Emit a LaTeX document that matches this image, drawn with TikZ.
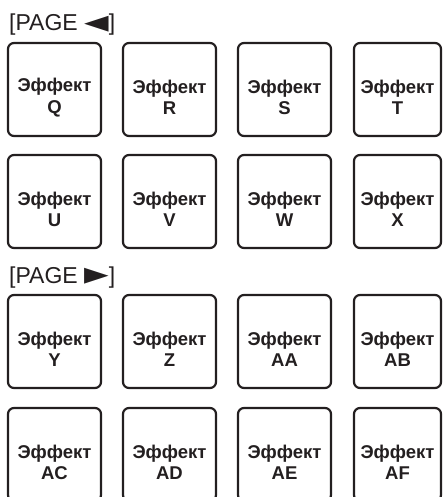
\documentclass[tikz,border=0pt]{standalone}
\usepackage{fontspec}
\setmainfont{Liberation Sans}
\newfontfamily\arrowfont{DejaVu Sans}
\definecolor{padline}{HTML}{231F20}
\tikzset{
  pad/.style={draw=padline,line width=2.2pt,rounded corners=6pt,inner sep=0pt},
  padtext/.style={align=center,text=padline,inner sep=0pt,
    font=\bfseries\fontsize{18.5}{21.5}\selectfont},
  pagelabel/.style={anchor=base west,inner sep=0pt,text=padline,
    font=\fontsize{23}{27}\selectfont}
}
\newcommand{\pagearrow}[1]{{\arrowfont\fontsize{32}{32}\selectfont\raisebox{-1.5pt}{#1}}}
\begin{document}
\begin{tikzpicture}[x=1pt,y=-1pt,line cap=round,line join=round]
  \useasboundingbox (0,0) rectangle (443,497);
  \clip (0,0) rectangle (443,497);
  \node[pagelabel] (page-prev) at (9,31) {[PAGE \pagearrow{◄}]};
  \node[pagelabel] (page-next) at (9,283) {[PAGE \pagearrow{►}]};
  \foreach \r/\ytop/\la/\lb/\lc/\ld in {1/43/Q/R/S/T,2/155/U/V/W/X,
      3/295/Y/Z/AA/AB,4/408/AC/AD/AE/AF} {
    \foreach \c/\xlft/\padw/\lbl in {1/8/93/\la,2/123/93/\lb,3/238/93/\lc,4/354/87/\ld} {
      \node[pad,minimum width=\padw pt,minimum height=93pt] (pad\r\c)
        at ({\xlft+\padw/2},{\ytop+46.5}) {};
      \node[padtext] (lbl\r\c) at ([yshift=-8pt]pad\r\c.center) {Эффект\\\lbl};
    }
  }
\end{tikzpicture}
\end{document}
